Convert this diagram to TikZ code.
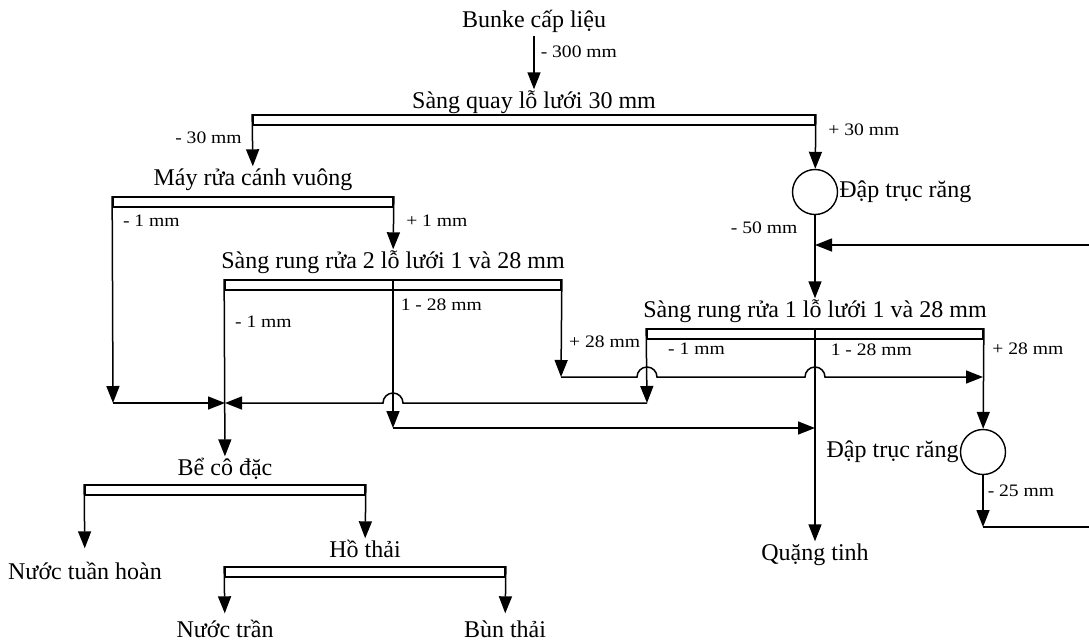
\documentclass[tikz,border=0pt]{standalone}
\usepackage{fontspec}
\setmainfont{Liberation Serif}
\newfontfamily\lblfont[FakeStretch=1.12]{Liberation Serif}
\usetikzlibrary{arrows.meta,positioning}
\tikzset{
  txt/.style    ={font=\fontsize{24}{28}\selectfont, inner xsep=2pt, inner ysep=3pt, text height=16pt, text depth=5pt},
  lbl/.style    ={font=\lblfont\fontsize{17.5}{21}\selectfont, inner sep=1pt},
  sieve/.style  ={draw, rectangle, line width=1.7pt, minimum height=10pt, inner sep=0pt},
  crusher/.style={draw, circle, line width=1.4pt, minimum size=45pt, inner sep=0pt},
  flow/.style   ={-{Triangle[length=17pt, width=13pt]}, line width=1.5pt}
}

\begin{document}
\begin{tikzpicture}[x=1pt, y=-1pt]
  \useasboundingbox (0,0) rectangle (1089,641);
  % feed, rotary screen, first crusher
  \node[txt] (bunke) at (534,22)  {Bunke cấp liệu};
  \node[txt] (sq)    at (534,103) {Sàng quay lỗ lưới 30 mm};
  \node[sieve, minimum width=562pt] (sqs) at (534,120) {};
  \node[crusher, label={[txt, inner xsep=1pt]right:Đập trục răng}] (cr1) at (815,192) {};
  % washer and screen 2
  \node[txt] (may) at (253,180) {Máy rửa cánh vuông};
  \node[sieve, minimum width=280pt] (mays) at (253,202) {};
  \node[txt] (sr2) at (393,263) {Sàng rung rửa 2 lỗ lưới 1 và 28 mm};
  \node[sieve, minimum width=336pt] (sr2s) at (393,285) {};
  % screen 1, second crusher, concentrate
  \node[txt] (sr1) at (815,312) {Sàng rung rửa 1 lỗ lưới 1 và 28 mm};
  \node[sieve, minimum width=336pt] (sr1s) at (815,334) {};
  \node[crusher, label={[txt, inner xsep=1pt]left:Đập trục răng}] (cr2) at (983,452) {};
  \node[txt] (qt) at (815,555) {Quặng tinh};
  % thickener and tailings pond
  \node[txt] (be)  at (225,470) {Bể cô đặc};
  \node[sieve, minimum width=280pt] (bes) at (225,490) {};
  \node[txt] (ntl) at (85,574)  {Nước tuần hoàn};
  \node[txt] (ho)  at (365,552) {Hồ thải};
  \node[sieve, minimum width=280pt] (hos) at (365,572) {};
  \node[txt] (ntr) at (225,632) {Nước trần};
  \node[txt] (bun) at (505,632) {Bùn thải};
  % corners and junctions
  \coordinate (m1) at (113,403);
  \coordinate (k)  at (225,403);
  \coordinate (m2) at (647,403);
  \coordinate (r2) at (561,377);
  \coordinate (t2) at (983,377);
  \coordinate (d2) at (393,428);
  \coordinate (j2) at (815,428);
  \coordinate (j1) at (815,245);
  \coordinate (rc) at (983,527);

  \draw[flow] (bunke) -- node[lbl, right=5pt, pos=0.3]{- 300 mm} (sq);
  \draw[flow] (sqs.north west) -- node[lbl, left=9pt, pos=0.45]{- 30 mm} (may);
  \draw[flow] (sqs.north east) -- node[lbl, right=11pt, pos=0.29]{+ 30 mm} (cr1);
  \draw[flow] (cr1) -- node[lbl, left=16pt, pos=0.15]{- 50 mm} (sr1);
  \draw[flow] (mays.north east) -- node[lbl, right=11pt, pos=0.46]{+ 1 mm} (sr2);
  \draw[flow] (mays.north west) -- node[lbl, right=9pt, pos=0.12]{- 1 mm} (m1);
  \draw[flow] (m1) -- (k);
  \draw[flow] (sr2s.north west) -- node[lbl, right=9pt, pos=0.24]{- 1 mm} (be);
  \draw[flow] (sr2s.north) -- node[lbl, right=6pt, pos=0.17]{1 - 28 mm} (d2);
  \draw[flow] (d2) -- (j2);
  \draw[flow] (sr2s.north east) -- node[lbl, right=6pt, pos=0.64]{+ 28 mm} (r2);
  \draw[flow] (r2) -- ([xshift=-10pt]r2 -| m2) arc[start angle=180, end angle=0, radius=10pt]
    -- ([xshift=-10pt]r2 -| j2) arc[start angle=180, end angle=0, radius=10pt] -- (t2);
  \draw[flow] (sr1s.north west) -- node[lbl, right=20pt, pos=0.28]{- 1 mm} (m2);
  \draw[flow] (m2) -- ([xshift=10pt]m2 -| d2) arc[start angle=0, end angle=180, radius=10pt] -- (k);
  \draw[flow] (sr1s.north) -- node[lbl, right=14pt, pos=0.1]{1 - 28 mm} (qt);
  \draw[flow] (sr1s.north east) -- node[lbl, right=7pt, pos=0.2]{+ 28 mm} (cr2);
  \draw[flow] (cr2) -- node[lbl, right=3pt, pos=0.31]{- 25 mm} (rc);
  \draw[flow] (rc) -- ++(115,0) |- (j1);
  \draw[flow, shorten >=12pt] (bes.north west) -- (ntl);
  \draw[flow] (bes.north east) -- (ho);
  \draw[flow, shorten >=5pt] (hos.north west) -- (ntr);
  \draw[flow, shorten >=5pt] (hos.north east) -- (bun);
\end{tikzpicture}
\end{document}
